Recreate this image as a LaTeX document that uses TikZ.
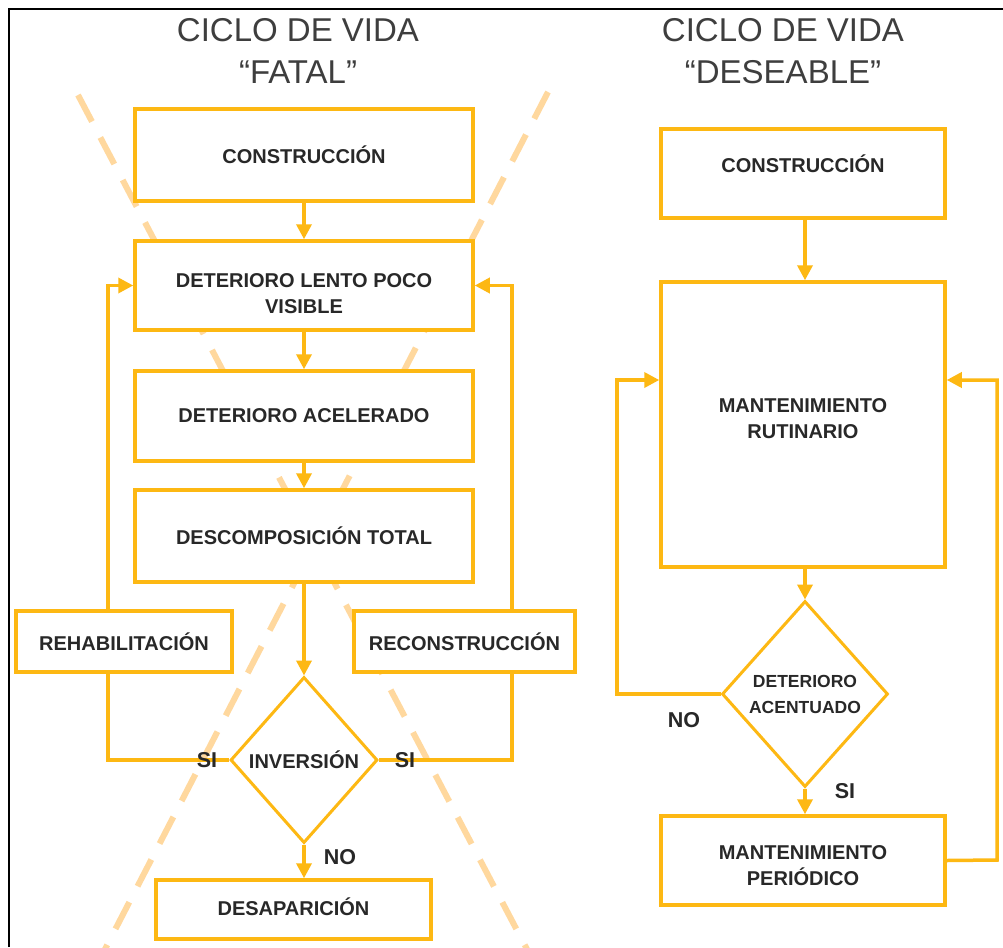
\documentclass[tikz,border=0pt]{standalone}
\usepackage{fontspec}
\setmainfont{Liberation Sans}
\usetikzlibrary{shapes.geometric,arrows.meta}
\definecolor{amber}{RGB}{253,184,19}
\definecolor{dashc}{RGB}{255,216,158}
\definecolor{txtc}{RGB}{40,40,40}
\definecolor{titc}{RGB}{62,62,62}
\newcommand{\shifttext}[2]{\raisebox{#1}[\height][\depth]{#2}}
\begin{document}
\begin{tikzpicture}[x=1pt,y=-1pt,
  box/.style={draw=amber,line width=3.5pt,fill=white,inner sep=0pt,align=center,
    font=\bfseries\fontsize{20}{26}\selectfont,text=txtc},
  dia/.style={draw=amber,line width=3pt,fill=white,diamond,inner sep=0pt,align=center,
    font=\bfseries\fontsize{20}{26}\selectfont,text=txtc},
  conn/.style={draw=amber,line width=3.5pt},
  arr/.style={conn,-{Triangle[length=15pt,width=15pt]}},
  xline/.style={draw=dashc,line width=6pt,dash pattern=on 30pt off 18pt},
  lbl/.style={font=\bfseries\fontsize{21.5}{21.5}\selectfont,text=txtc,inner sep=0pt},
  title/.style={font=\fontsize{33}{42}\selectfont,text=titc,align=center,inner sep=0pt}]
\useasboundingbox (0,0) rectangle (1003,947);
\fill[white] (0,0) rectangle (1003,947);

% crossed-out dashed lines
\draw[xline] (78,95) -- (530,955);
\draw[xline] (548,92) -- (102,955);

% frame
\draw[black,line width=2.2pt] (9,947) -- (9,9) -- (1003,9);

% titles
\node[title] (t1) at (298,51) {CICLO DE VIDA\\“FATAL”};
\node[title] (t2) at (783,51) {CICLO DE VIDA\\“DESEABLE”};

% left column
\node[box,minimum width=338pt,minimum height=92pt] (c1) at (304,155) {CONSTRUCCIÓN};
\node[box,minimum width=338pt,minimum height=89pt] (d1) at (304,285.5) {\shifttext{-8pt}{\parbox{320pt}{\centering DETERIORO LENTO POCO\\VISIBLE}}};
\node[box,minimum width=338pt,minimum height=90pt] (d2) at (304,416) {DETERIORO ACELERADO};
\node[box,minimum width=338pt,minimum height=92pt] (d3) at (304,536) {DESCOMPOSICIÓN TOTAL};
\node[box,minimum width=216pt,minimum height=61pt] (rehab) at (124,641.5) {REHABILITACIÓN};
\node[box,minimum width=221pt,minimum height=61pt] (recon) at (464.5,641.5) {RECONSTRUCCIÓN};
\node[dia,minimum width=147pt,minimum height=166pt] (inv) at (304,760) {INVERSIÓN};
\node[box,minimum width=275pt,minimum height=59pt] (desap) at (293.5,909.5) {\shifttext{2.5pt}{DESAPARICIÓN}};

\draw[arr] (c1) -- (d1);
\draw[arr] (d1) -- (d2);
\draw[arr] (d2) -- (d3);
\draw[arr] (d3) -- (inv);
\draw[arr] (inv) -- (desap.north -| inv);

\coordinate (lx) at (108,760);
\coordinate (rx) at (512,760);
\draw[conn] (inv.west) -- (lx) -- (lx |- rehab.south);
\draw[arr] (lx |- rehab.north) |- (d1.west);
\draw[conn] (inv.east) -- (rx) -- (rx |- recon.south);
\draw[arr] (rx |- recon.north) |- (d1.east);

\node[lbl] (si1) at (207,760) {SI};
\node[lbl] (si2) at (405,760) {SI};
\node[lbl] (no1) at (340,857) {NO};

% right column
\node[box,minimum width=284pt,minimum height=89pt] (c2) at (803,173.5) {\shifttext{10pt}{CONSTRUCCIÓN}};
\node[box,minimum width=284pt,minimum height=285pt] (mr) at (803,424.5) {\shifttext{6pt}{\parbox{260pt}{\centering MANTENIMIENTO\\RUTINARIO}}};
\node[dia,minimum width=166pt,minimum height=186pt,font=\bfseries\fontsize{17.5}{26}\selectfont] (da) at (805,694) {DETERIORO\\ACENTUADO};
\node[box,minimum width=284pt,minimum height=89pt] (mp) at (803,860.5) {\shifttext{-5pt}{\parbox{260pt}{\centering MANTENIMIENTO\\PERIÓDICO}}};

\draw[arr] (c2.south -| da) -- (mr.north -| da);
\draw[arr] (mr.south -| da) -- (da);
\draw[arr] (da) -- (mp.north -| da);

\coordinate (ry) at (0,380);
\coordinate (nx) at (617,694);
\coordinate (ex) at (997,860);
\draw[arr] (da.west) -- (nx) |- (mr.west |- ry);
\draw[arr] (mp.east) -- (ex) |- (mr.east |- ry);

\node[lbl] (no2) at (684,720) {NO};
\node[lbl] (si3) at (845,791) {SI};
\end{tikzpicture}
\end{document}
